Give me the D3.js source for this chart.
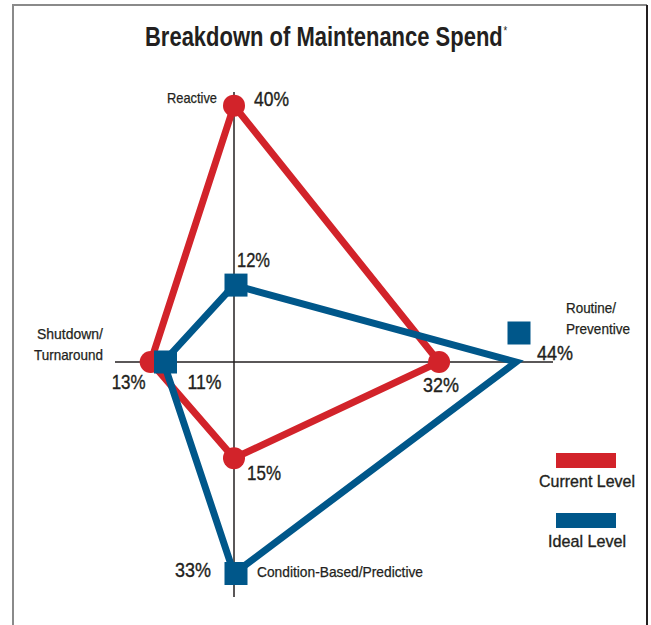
<!DOCTYPE html>
<html>
<head>
<meta charset="utf-8">
<script src="https://cdn.jsdelivr.net/npm/d3@7"></script>
<style>
  body { margin: 0; background: #fff; }
  svg { display: block; }
  text { font-family: "Liberation Sans", Arial, sans-serif; fill: #231f20; }
  text.med { stroke: #231f20; stroke-width: 0.35px; }
</style>
</head>
<body>
<svg width="651" height="625"></svg>
<script>
// data
var categories = ["Reactive", "Routine/Preventive", "Condition-Based/Predictive", "Shutdown/Turnaround"],
    currentLevel = [40, 32, 15, 13],
    idealLevel = [12, 44, 33, 11],
    seriesNames = ["Current Level", "Ideal Level"];

var svg = d3.select("svg"),
    width = +svg.attr("width"),
    height = +svg.attr("height");

var red = "#d2232a",
    blue = "#00578a";

var cx = 234, cy = 362;

// one axis per category: up, right, down, left
var angle = d3.scalePoint()
    .domain(categories)
    .range([0, 3 * Math.PI / 2]);

var r = d3.scaleLinear()
    .domain([0, 44])
    .range([0, 282]);

function point(cat, v) {
  var a = angle(cat);
  return [cx + Math.sin(a) * r(v), cy - Math.cos(a) * r(v)];
}

// condensed look: squeeze text to the width it has in the original
function squeeze(sel, w) {
  sel.attr("textLength", w).attr("lengthAdjust", "spacingAndGlyphs");
}

// frame
svg.append("path")
    .attr("d", "M13," + (height + 2) + "V5H647")
    .attr("fill", "none")
    .attr("stroke", "#8a8a8a")
    .attr("stroke-width", 2);
svg.append("line")
    .attr("x1", 647).attr("x2", 647)
    .attr("y1", 5).attr("y2", height + 2)
    .attr("stroke", "#231f20")
    .attr("stroke-width", 2);

// title, narrowed with a horizontal scale so the asterisk can ride along
var title = svg.append("text")
    .style("font-size", "28px")
    .style("font-weight", "bold");
var titleMain = title.append("tspan")
    .text("Breakdown of Maintenance Spend");
title.append("tspan")
    .attr("dy", -11)
    .attr("dx", 1)
    .style("font-size", "12px")
    .style("font-weight", "normal")
    .text("*");
var k = 358 / titleMain.node().getComputedTextLength();
title.attr("transform", "translate(145,46) scale(" + k + ",1)");

// axes
svg.append("line")
    .attr("x1", cx).attr("x2", cx)
    .attr("y1", 92).attr("y2", 597)
    .attr("stroke", "#231f20").attr("stroke-width", 1.5);
svg.append("line")
    .attr("x1", 115).attr("x2", 553)
    .attr("y1", cy).attr("y2", cy)
    .attr("stroke", "#231f20").attr("stroke-width", 1.5);

var line = d3.line().curve(d3.curveLinearClosed);

function pts(values) {
  return categories.map(function(c, i) { return point(c, values[i]); });
}

// current level
svg.append("path")
    .attr("d", line(pts(currentLevel)))
    .attr("fill", "none")
    .attr("stroke", red)
    .attr("stroke-width", 7)
    .attr("stroke-linejoin", "miter");

svg.selectAll(".cur")
    .data(pts(currentLevel))
  .enter().append("circle")
    .attr("class", "cur")
    .attr("cx", function(d) { return d[0]; })
    .attr("cy", function(d) { return d[1]; })
    .attr("r", 11)
    .attr("fill", red);

// ideal level
svg.append("path")
    .attr("d", line(pts(idealLevel)))
    .attr("fill", "none")
    .attr("stroke", blue)
    .attr("stroke-width", 7)
    .attr("stroke-linejoin", "miter");

// the 44% marker sits above its vertex in the original
var markerShift = [[2, 0], [3, -29], [2, 0], [2, 0]];
svg.selectAll(".ideal")
    .data(pts(idealLevel))
  .enter().append("rect")
    .attr("class", "ideal")
    .attr("x", function(d, i) { return d[0] + markerShift[i][0] - 11.5; })
    .attr("y", function(d, i) { return d[1] + markerShift[i][1] - 11.5; })
    .attr("width", 23)
    .attr("height", 23)
    .attr("fill", blue);

// value labels: [dx, dy, width]
var curOffsets = [[20, 0, 35], [-16, 30, 36], [13, 22, 34], [-39, 27, 34]],
    idealOffsets = [[3, -18, 33], [21, -2, 36], [-59, 3, 36], [24, 27, 34]];

function valueLabels(values, offsets) {
  svg.selectAll(null)
      .data(pts(values))
    .enter().append("text")
      .attr("class", "med")
      .attr("x", function(d, i) { return d[0] + offsets[i][0]; })
      .attr("y", function(d, i) { return d[1] + offsets[i][1]; })
      .attr("textLength", function(d, i) { return offsets[i][2]; })
      .attr("lengthAdjust", "spacingAndGlyphs")
      .style("font-size", "19.5px")
      .text(function(d, i) { return values[i] + "%"; });
}
valueLabels(currentLevel, curOffsets);
valueLabels(idealLevel, idealOffsets);

// category labels
var catLabels = [
  {lines: ["Reactive"], w: [50], x: 217, y: 103, anchor: "end"},
  {lines: ["Routine/", "Preventive"], w: [50, 64], x: 566, y: 313, anchor: "start"},
  {lines: ["Condition-Based/Predictive"], w: [166], x: 257, y: 577, anchor: "start"},
  {lines: ["Shutdown/", "Turnaround"], w: [66, 69], x: 103, y: 339, anchor: "end"}
];
catLabels.forEach(function(c) {
  c.lines.forEach(function(s, i) {
    svg.append("text")
        .attr("class", "med")
        .attr("x", c.x)
        .attr("y", c.y + i * 21)
        .attr("text-anchor", c.anchor)
        .style("font-size", "14.5px")
        .style("stroke-width", "0.25px")
        .text(s)
        .call(squeeze, c.w[i]);
  });
});

// legend
var legendWidths = [96, 78];
var legend = svg.selectAll(".legend")
    .data(seriesNames)
  .enter().append("g")
    .attr("class", "legend")
    .attr("transform", function(d, i) { return "translate(0," + i * 60 + ")"; });
legend.append("rect")
    .attr("x", 556)
    .attr("y", 453)
    .attr("width", 60)
    .attr("height", 15)
    .attr("fill", function(d, i) { return i ? blue : red; });
legend.append("text")
    .attr("class", "med")
    .attr("x", 587)
    .attr("y", 487)
    .attr("text-anchor", "middle")
    .style("font-size", "17px")
    .attr("textLength", function(d, i) { return legendWidths[i]; })
    .attr("lengthAdjust", "spacingAndGlyphs")
    .text(function(d) { return d; });
</script>
</body>
</html>
